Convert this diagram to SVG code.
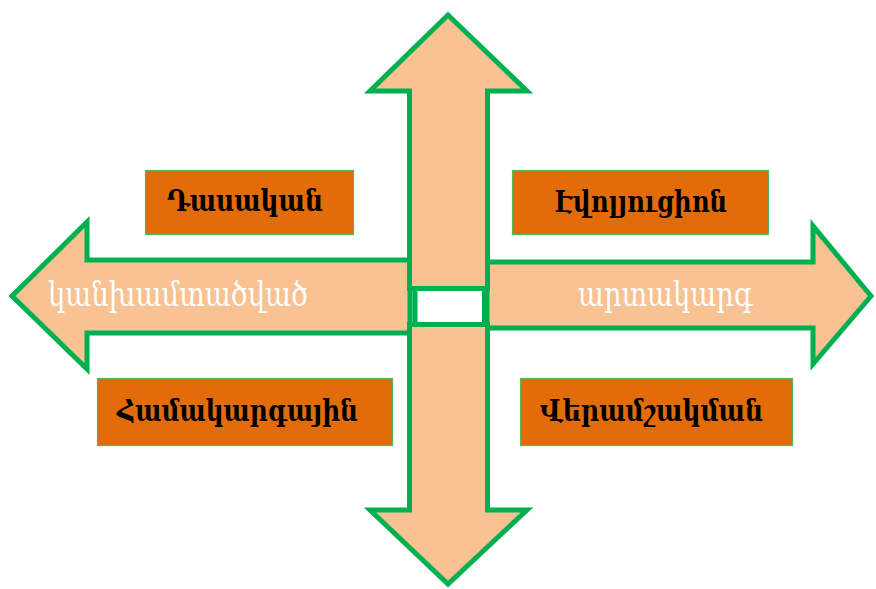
<svg xmlns="http://www.w3.org/2000/svg" width="876" height="589" viewBox="0 0 876 589">
<style>
.arrow{fill:#F8C292;stroke:#00B050;stroke-width:5;stroke-linejoin:miter;stroke-miterlimit:10}
.box{fill:#E36C0A;stroke:#4CBB60;stroke-width:1.2}
.bt{font-family:"DejaVu Serif","Noto Serif",serif;font-weight:bold;font-size:30px;fill:#000}
.wt{font-family:"DejaVu Serif","Noto Serif",serif;font-size:33px;fill:#FFFFFF}
</style>
<rect width="876" height="589" fill="#FFFFFF"/>
<g id="connectors">
<polygon id="arrow-left" class="arrow" points="12,296 87,222 87,260 410,260 410,333 87,333 87,369"/>
<polygon id="arrow-right" class="arrow" points="871,296 813,226 813,262 487,262 487,328 813,328 813,364"/>
<polygon id="arrow-up" class="arrow" points="448,15 527,91 487.5,91 487.5,288.5 409.5,288.5 409.5,91 370,91"/>
<polygon id="arrow-down" class="arrow" points="409.5,324.5 487.5,324.5 487.5,510 527,510 448,584 370,510 409.5,510"/>
<rect id="center" x="415" y="288.5" width="69.5" height="36" fill="#FFFFFF" stroke="#00B050" stroke-width="5"/>
<text class="wt" x="48" y="306" textLength="260" lengthAdjust="spacingAndGlyphs">կանխամտածված</text>
<text class="wt" x="578" y="306" textLength="175" lengthAdjust="spacingAndGlyphs">արտակարգ</text>
</g>
<g id="node-dasakan">
<rect class="box" x="145.5" y="170.5" width="208" height="64"/>
<text class="bt" x="167" y="211" textLength="156" lengthAdjust="spacingAndGlyphs">Դասական</text>
</g>
<g id="node-evolyucion">
<rect class="box" x="512.5" y="170.5" width="256" height="64"/>
<text class="bt" x="555" y="212" textLength="172" lengthAdjust="spacingAndGlyphs">Էվոլյուցիոն</text>
</g>
<g id="node-hamakargayin">
<rect class="box" x="97.5" y="378.5" width="295" height="67"/>
<text class="bt" x="117" y="421" textLength="241" lengthAdjust="spacingAndGlyphs">Համակարգային</text>
</g>
<g id="node-veramshakman">
<rect class="box" x="520.5" y="378.5" width="272" height="67"/>
<text class="bt" x="540" y="421" textLength="223" lengthAdjust="spacingAndGlyphs">Վերամշակման</text>
</g>
</svg>
